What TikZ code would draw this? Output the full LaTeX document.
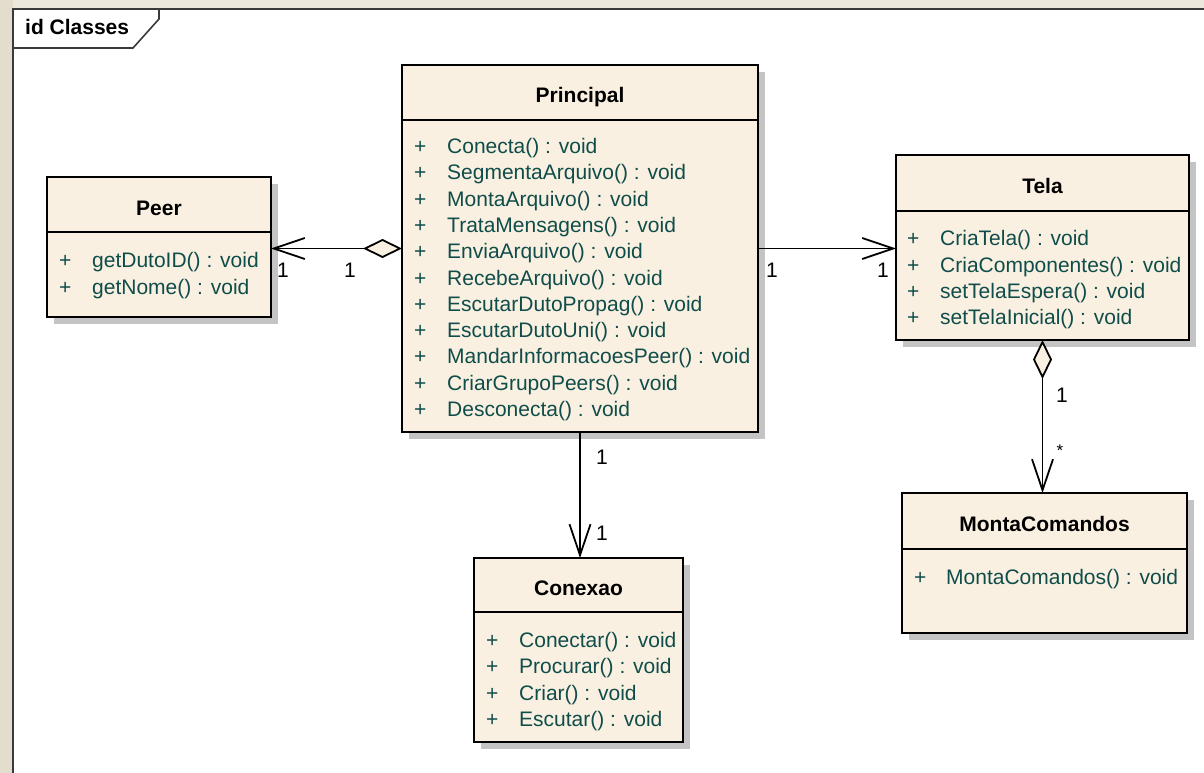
\documentclass[tikz,border=0pt]{standalone}
\usepackage{fontspec}
\setmainfont{Liberation Sans}
\usetikzlibrary{arrows.meta,shadows}

\definecolor{classfill}{HTML}{FAF0E1}
\definecolor{opcolor}{HTML}{0F4D4A}
\definecolor{shadowgray}{HTML}{C4C4C4}
\definecolor{bgbeige}{HTML}{E4DDCE}
\definecolor{bgtop}{HTML}{ECE8DE}
\definecolor{framecol}{HTML}{3A3A3A}

\begin{document}
\begin{tikzpicture}[x=1pt,y=-1pt,
  classbox/.style={draw=black, line width=2pt, fill=classfill, anchor=north west,
    inner sep=0pt, outer sep=0pt,
    general shadow={fill=shadowgray, shadow xshift=7pt, shadow yshift=-7pt}},
  divider/.style={line width=2pt, black},
  classtitle/.style={anchor=base, inner sep=0pt, font=\fontsize{21}{25}\selectfont\bfseries},
  opvis/.style={anchor=base west, inner sep=0pt, text=opcolor, font=\fontsize{21}{25}\selectfont},
  optext/.style={anchor=base west, inner sep=0pt, text=opcolor, font=\fontsize{21}{25}\selectfont},
  mult/.style={inner sep=0pt, font=\fontsize{21}{25}\selectfont},
  assoc/.style={line width=1.8pt, black},
  openhead/.style={-{Straight Barb[length=31pt, width=21pt, line width=1.8pt]}},
  aggr/.style={{Diamond[length=39pt, width=19pt, fill=classfill, line width=1.8pt]}-{Straight Barb[length=31pt, width=21pt, line width=1.8pt]}},
  frameline/.style={line width=1.6pt, framecol}]

\useasboundingbox (0,0) rectangle (1204,773);

% diagram frame and its name tab
\fill[bgbeige] (0,0) rectangle (1204,773);
\fill[bgtop] (13,0) rectangle (1204,9);
\fill[white] (13,9) rectangle (1204,773);
\draw[frameline] (13,773) -- (13,9) -- (1204,9);
\draw[frameline] (13,48) -- (133,48) -- (159,19) -- (159,9);
\node[anchor=base west, inner sep=0pt, font=\fontsize{21}{25}\selectfont\bfseries] (frame-name) at (25,35) {id Classes};

% ---------- Principal ----------
\node[classbox, minimum width=356pt, minimum height=367pt] (principal) at (402,65) {};
\node[classtitle] (principal-name) at (580,102.5) {Principal};
\draw[divider] (principal.west |- 0,120) -- (principal.east |- 0,120);
\foreach \op [count=\i from 0] in {Conecta,SegmentaArquivo,MontaArquivo,TrataMensagens,EnviaArquivo,RecebeArquivo,EscutarDutoPropag,EscutarDutoUni,MandarInformacoesPeer,CriarGrupoPeers,Desconecta}{
  \node[opvis] (principal-vis-\i) at (414,153.5+26.3*\i) {+};
  \node[optext] (principal-op-\i) at (447,153.5+26.3*\i) {\op() : void};
}

% ---------- Peer ----------
\node[classbox, minimum width=224pt, minimum height=140pt] (peer) at (47,177) {};
\node[classtitle] (peer-name) at (159,215.5) {Peer};
\draw[divider] (peer.west |- 0,232) -- (peer.east |- 0,232);
\foreach \op [count=\i from 0] in {getDutoID,getNome}{
  \node[opvis] (peer-vis-\i) at (59,267.5+26.5*\i) {+};
  \node[optext] (peer-op-\i) at (92,267.5+26.5*\i) {\op() : void};
}

% ---------- Tela ----------
\node[classbox, minimum width=293pt, minimum height=185pt] (tela) at (896,155) {};
\node[classtitle] (tela-name) at (1042.5,193.5) {Tela};
\draw[divider] (tela.west |- 0,210.5) -- (tela.east |- 0,210.5);
\foreach \op [count=\i from 0] in {CriaTela,CriaComponentes,setTelaEspera,setTelaInicial}{
  \node[opvis] (tela-vis-\i) at (907,245.8+26.3*\i) {+};
  \node[optext] (tela-op-\i) at (940,245.8+26.3*\i) {\op() : void};
}

% ---------- MontaComandos ----------
\node[classbox, minimum width=285pt, minimum height=140pt] (monta) at (902,493) {};
\node[classtitle] (monta-name) at (1044.5,531.5) {MontaComandos};
\draw[divider] (monta.west |- 0,549) -- (monta.east |- 0,549);
\node[opvis] (monta-vis-0) at (914,584) {+};
\node[optext] (monta-op-0) at (946,584) {MontaComandos() : void};

% ---------- Conexao ----------
\node[classbox, minimum width=209pt, minimum height=184pt] (conexao) at (474,558) {};
\node[classtitle] (conexao-name) at (578.5,595.5) {Conexao};
\draw[divider] (conexao.west |- 0,612) -- (conexao.east |- 0,612);
\foreach \op [count=\i from 0] in {Conectar,Procurar,Criar,Escutar}{
  \node[opvis] (conexao-vis-\i) at (486,647.5+26.3*\i) {+};
  \node[optext] (conexao-op-\i) at (519,647.5+26.3*\i) {\op() : void};
}

% ---------- associations ----------
\draw[assoc, aggr] (principal.west) -- (principal.west -| peer.east);
\draw[assoc, openhead] (principal.east) -- (principal.east -| tela.west);
\draw[assoc, openhead] (principal.south) -- (principal.south |- conexao.north);
\draw[assoc, aggr] (tela.south) -- (tela.south |- monta.north);

% multiplicities
\node[mult] (m-peer-near) at (283,270) {1};
\node[mult] (m-peer-far) at (350,270) {1};
\node[mult] (m-tela-near) at (772,270) {1};
\node[mult] (m-tela-far) at (883,270) {1};
\node[mult] (m-con-near) at (602,457) {1};
\node[mult] (m-con-far) at (602,533) {1};
\node[mult] (m-monta-near) at (1062,395) {1};
\node[mult, font=\fontsize{17}{20}\selectfont] (m-monta-far) at (1060,451) {*};

\end{tikzpicture}
\end{document}
